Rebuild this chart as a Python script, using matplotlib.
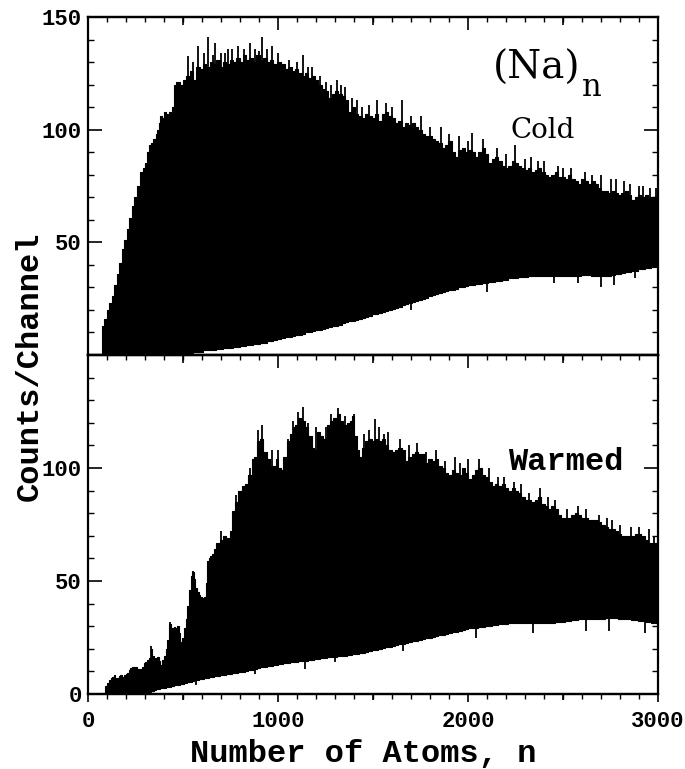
import numpy as np
import matplotlib
matplotlib.use('Agg')
import matplotlib.pyplot as plt
from matplotlib.ticker import MultipleLocator

# ---------------- data ----------------
cold_n = [75, 90, 105, 120, 132, 145, 158, 171, 184, 198, 211, 224, 237, 250, 263, 281, 294, 307, 316, 325,
          338, 351, 360, 368, 377, 386, 395, 404, 421, 434, 447, 456, 475, 492, 509, 526, 543, 561, 579, 597,
          614, 632, 650, 667, 684, 702, 720, 737, 754, 771, 789, 806, 823, 841, 858, 876, 893, 914, 932, 950,
          967, 985, 1002, 1028, 1045, 1063, 1080, 1098, 1116, 1133, 1151, 1168, 1186, 1203, 1221, 1239, 1256, 1274, 1291, 1309,
          1326, 1344, 1361, 1379, 1396, 1414, 1431, 1449, 1467, 1484, 1502, 1519, 1537, 1554, 1572, 1589, 1607, 1624, 1642, 1660,
          1677, 1695, 1712, 1730, 1747, 1765, 1782, 1800, 1817, 1835, 1852, 1870, 1887, 1905, 1922, 1940, 1958, 1975, 1993, 2010,
          2028, 2045, 2063, 2080, 2098, 2115, 2133, 2150, 2168, 2185, 2203, 2220, 2238, 2255, 2273, 2290, 2308, 2325, 2343, 2360,
          2378, 2395, 2413, 2430, 2448, 2465, 2483, 2500, 2518, 2535, 2553, 2570, 2588, 2605, 2623, 2640, 2658, 2675, 2693, 2710,
          2728, 2745, 2763, 2780, 2798, 2815, 2833, 2850, 2868, 2885, 2903, 2920, 2938, 2955, 2973, 2990, 3000]
cold_upper = [13, 16, 20, 23, 26, 31, 36, 41, 47, 51, 56, 61, 66, 70, 75, 81, 83, 85, 90, 93,
              94, 96, 98, 100, 103, 106, 105, 108, 107, 108, 110, 120, 121, 120, 122, 124, 126, 122, 128, 127,
              129, 128, 130, 129, 131, 128, 130, 129, 131, 130, 132, 130, 133, 131, 132, 130, 133, 131, 132, 130,
              131, 129, 130, 129, 127, 128, 126, 127, 125, 124, 125, 123, 124, 122, 120, 118, 117, 114, 116, 117,
              116, 115, 113, 108, 110, 107, 106, 105, 107, 106, 105, 107, 104, 107, 108, 106, 105, 103, 104, 101,
              103, 102, 103, 101, 100, 98, 97, 97, 96, 95, 94, 92, 93, 95, 90, 88, 91, 92, 90, 91,
              90, 88, 90, 92, 89, 85, 87, 88, 86, 84, 83, 84, 86, 85, 84, 83, 82, 83, 81, 82,
              83, 81, 80, 79, 80, 81, 79, 79, 78, 80, 78, 77, 76, 78, 77, 76, 77, 76, 74, 73,
              73, 72, 73, 72, 71, 72, 73, 71, 69, 70, 71, 70, 71, 70, 70, 70, 70]
cold_lower = [0, 0, 0, 0, 0, 0, 0, 0, 0, 0, 0, 0, 0, 0, 0, 0, 0, 0, 0, 0,
              0, 0, 0, 0, 0, 0, 0, 0, 0, 0, 0, 0.5, 0.5, 1, 1, 1, 1, 1.5, 1.5, 1.5,
              2, 2, 2, 2, 2.5, 2.5, 3, 3, 3, 3.5, 3.5, 4, 4, 4.5, 4.5, 5, 5, 5.5, 5.5, 6,
              6, 6.5, 7, 7.5, 8, 8, 8.5, 9, 9, 9.5, 10, 10, 10.5, 11, 11, 11.5, 12, 12.5, 13, 13,
              13.5, 14, 14.5, 15, 15, 15.5, 16, 16.5, 17, 17.5, 18, 18, 18.5, 19, 19.5, 20, 20.5, 21, 21.5, 22,
              22.5, 23, 23.5, 24, 24.5, 25, 25.5, 26, 26.5, 27, 27.5, 28, 28.5, 29, 29, 29.5, 30, 30, 30.5, 31,
              31, 31.5, 31.5, 32, 32, 32.5, 32.5, 33, 33, 33.5, 33.5, 34, 34, 34, 34.5, 34.5, 34.5, 35, 35, 35,
              35, 35, 35, 35, 35, 35, 35, 35, 35, 35, 35, 35, 35, 35.5, 35.5, 35.5, 35, 35, 35, 35,
              35, 35, 35.5, 36, 36, 36.5, 37, 37, 37.5, 37.5, 38, 38, 38.5, 38.5, 39, 39, 39]
cold_spike_n = [526, 550, 579, 610, 632, 660, 667, 700, 720, 737, 760, 789, 820, 853, 880, 900, 914, 940, 967,
                1000, 1060, 1100, 1133, 1160, 1180, 1220, 1250, 1280, 1309, 1330, 1350, 1390, 1414, 1440, 1480,
                1519, 1570, 1600, 1651, 1700, 1750, 1800, 1860, 1900, 1950, 2000, 2019, 2080, 2150, 2200, 2247,
                2300, 2330, 2370, 2400, 2475, 2500, 2540, 2616, 2650, 2700, 2750, 2780, 2820, 2850, 2900, 2920,
                2960, 2990]
cold_spike_v = [132.6, 130, 137, 134, 141, 133, 138.5, 134, 134, 135.6, 136, 137, 136, 138.5, 136, 135, 141, 136, 137,
                134, 131, 130, 133.3, 128, 128, 124, 121, 120, 122, 120, 119, 114, 113, 110, 111,
                113, 112, 110, 113, 106, 106, 101, 101, 98, 97, 95, 98.5, 96, 92, 89, 93.3,
                87, 88, 86, 86, 84, 83, 83, 81, 80, 80, 78, 78, 77, 76, 75, 75,
                74, 74]
cold_notch_n = [1700, 2100, 2450, 2580, 2700, 2770, 2880]
cold_notch_v = [20, 28, 32, 32, 30, 31, 34]

warm_n = [88, 96, 105, 114, 123, 132, 140, 149, 158, 167, 175, 184, 193, 202, 211, 219, 228, 237, 246, 254,
          263, 272, 281, 290, 298, 307, 316, 325, 333, 342, 351, 360, 368, 377, 386, 395, 404, 412, 421, 430,
          439, 447, 456, 465, 474, 482, 491, 500, 509, 518, 526, 535, 544, 553, 561, 570, 579, 588, 596, 605,
          614, 623, 632, 640, 649, 658, 667, 684, 702, 719, 737, 754, 765, 782, 800, 817, 835, 852, 870, 879,
          895, 914, 932, 950, 967, 985, 993, 1010, 1019, 1037, 1054, 1072, 1081, 1098, 1116, 1133, 1151, 1168, 1186, 1195,
          1212, 1230, 1247, 1265, 1282, 1300, 1317, 1335, 1353, 1370, 1388, 1396, 1405, 1423, 1432, 1449, 1467, 1484, 1502, 1519,
          1537, 1554, 1572, 1589, 1607, 1624, 1642, 1660, 1677, 1695, 1712, 1730, 1747, 1765, 1782, 1800, 1817, 1835, 1852, 1870,
          1887, 1905, 1922, 1940, 1958, 1975, 1993, 2010, 2028, 2045, 2063, 2080, 2098, 2115, 2133, 2150, 2168, 2185, 2203, 2220,
          2238, 2255, 2273, 2290, 2308, 2325, 2343, 2360, 2378, 2395, 2413, 2430, 2448, 2465, 2483, 2500, 2518, 2535, 2553, 2570,
          2588, 2605, 2623, 2640, 2658, 2675, 2693, 2710, 2728, 2745, 2763, 2780, 2798, 2815, 2833, 2850, 2868, 2885, 2903, 2920,
          2938, 2955, 2973, 2990, 3000]
warm_upper = [2, 3.5, 5, 6, 7, 7.5, 8.5, 7, 7, 8, 8.5, 7.5, 8.5, 9, 9.5, 10.5, 11.5, 12, 12, 12,
              11, 11, 10.5, 12, 13.5, 14, 15, 16, 20, 17, 16, 15.5, 16.5, 14.5, 13, 15, 17, 20, 24, 31,
              28, 29, 29.5, 29, 30, 27, 23, 25, 29, 33, 39, 46, 52, 54, 51, 47, 45, 44, 43, 42.5,
              43, 49, 59, 60, 61, 62, 64, 67, 68, 70, 69, 72, 81, 85, 90, 92, 93, 97, 104, 105,
              112, 113, 107, 104, 101, 101, 104, 100, 99, 105, 112, 115, 118, 119, 122, 121, 118, 114, 109, 108,
              116, 114, 113, 119, 121, 122, 124, 121, 119, 120, 121, 123, 114, 108, 105, 109, 112, 113, 112, 113,
              112, 113, 110, 108, 107, 108, 109, 108, 103, 105, 106, 107, 106, 106, 102, 104, 103, 104, 101, 100,
              98, 97, 99, 98, 97, 100, 98, 95, 97, 99, 100, 97, 96, 94, 92, 93, 92, 93, 91, 90,
              91, 90, 89, 87, 86, 86, 85, 86, 87, 84, 83, 82, 83, 82, 79, 78, 78, 78, 79, 80,
              79, 78, 78, 77, 77, 77, 76, 75, 74, 73, 73, 72, 71, 70, 70, 70, 70, 71, 71, 70,
              68, 67, 67, 67, 67]
warm_lower = [0, 0, 0, 0, 0, 0, 0, 0, 0, 0, 0, 0, 0, 0, 0, 0, 0, 0, 0, 0,
              0, 0, 0, 0.3, 0.5, 0.8, 1, 1, 1.2, 1.5, 1.8, 2, 2, 2.2, 2.5, 2.5, 2.8, 3, 3, 3.2,
              3.5, 3.5, 3.8, 4, 4, 4.2, 4.5, 4.5, 4.8, 5, 5.2, 5.5, 5.5, 5.8, 6, 6, 6.2, 6.5, 6.5, 6.8,
              7, 7, 7.2, 7.5, 7.5, 7.6, 7.8, 8, 8.4, 8.6, 8.8, 9, 9.2, 9.4, 9.6, 9.8, 10, 10.4, 10.8, 11,
              11.5, 11.8, 12, 12.3, 12.6, 12.9, 13, 13.2, 13.4, 13.6, 13.8, 14, 14, 14.2, 14.4, 14.6, 14.8, 15, 15.2, 15.4,
              15.6, 15.8, 16, 16.2, 16.4, 16.5, 16.6, 16.8, 17, 17.2, 17.4, 17.5, 17.6, 17.8, 18, 18.3, 18.6, 19, 19.3, 19.6,
              20, 20.3, 20.6, 21, 21.3, 21.6, 22, 22.3, 22.6, 23, 23.3, 23.6, 24, 24.3, 24.6, 25, 25.3, 25.6, 26, 26.3,
              26.6, 27, 27.3, 27.6, 28, 28.3, 28.6, 29, 29.2, 29.4, 29.6, 29.8, 30, 30.2, 30.4, 30.6, 30.8, 31, 31, 31.2,
              31.2, 31.4, 31.4, 31.4, 31.4, 31.4, 31.4, 31.4, 31.4, 31.4, 31.4, 31.4, 31.6, 31.8, 32, 32, 32.2, 32.4, 32.6, 32.8,
              33, 33, 33, 33, 33, 33, 33.2, 33.4, 33.6, 33.7, 33.7, 33.5, 33.4, 33.2, 33, 33, 32.8, 32.6, 32.4, 32.2,
              32, 31.8, 31.6, 31.6, 31.6]
warm_spike_n = [333, 430, 553, 700, 780, 850, 895, 914, 970, 1000, 1050, 1080, 1107, 1133, 1160, 1200, 1250,
                1280, 1317, 1350, 1400, 1450, 1480, 1511, 1530, 1560, 1580, 1640, 1690, 1730, 1780, 1830, 1880,
                1932, 1960, 2000, 2060, 2110, 2160, 2190, 2240, 2280, 2320, 2380, 2420, 2460, 2520, 2580, 2620,
                2690, 2730, 2760, 2800, 2860, 2900, 2950, 2980]
warm_spike_v = [21.3, 32, 54.3, 72, 88, 100, 117, 119, 108, 108, 113, 121, 124.7, 126.9, 120, 118, 118,
                124, 126.5, 123, 124, 115, 117, 121.8, 118, 115, 116, 113, 110, 111, 107, 108, 103,
                104.7, 102, 104, 104, 100, 96, 96, 94, 93, 89, 91, 87, 86, 82, 83, 82,
                79, 78, 77, 75, 74, 74, 73, 70]
warm_notch_n = [570, 880, 1140, 1300, 1660, 2040, 2340, 2620, 2740, 2930]
warm_notch_v = [4, 9, 11, 14, 19, 25, 27, 28, 28, 27]

x_major = [0, 1000, 2000, 3000]
x_mid = [500, 1500, 2500]
cold_yticklabels = ['', '50', '100', '150']
warm_yticklabels = ['0', '50', '100', '']

# ---------------- figure ----------------
W, H = 685, 769
fig = plt.figure(figsize=(W / 100, H / 100), dpi=100)
fig.patch.set_facecolor('white')

def fx(px):
    return px / W

def fy(py):
    return 1 - py / H

L, R = 88, 658
ax1 = fig.add_axes([fx(L), fy(355), fx(R) - fx(L), fy(17) - fy(355)])
ax2 = fig.add_axes([fx(L), fy(694), fx(R) - fx(L), fy(355) - fy(694)])

mono = dict(family='Liberation Mono', weight='bold')

def draw(ax, n, up, lo, sn, sv, nn, nv):
    n = np.asarray(n, float)
    up = np.asarray(up, float)
    lo = np.asarray(lo, float)
    ax.fill_between(n, lo, up, step='mid', color='black', linewidth=0.8, edgecolor='black')
    sv = np.asarray(sv, float)
    ax.vlines(sn, sv * 0.75, sv, color='black', linewidth=1.3)
    nv = np.asarray(nv, float)
    ax.vlines(nn, nv, nv + 6, color='black', linewidth=1.3)

draw(ax1, cold_n, cold_upper, cold_lower, cold_spike_n, cold_spike_v, cold_notch_n, cold_notch_v)
draw(ax2, warm_n, warm_upper, warm_lower, warm_spike_n, warm_spike_v, warm_notch_n, warm_notch_v)

for ax, labels in ((ax1, cold_yticklabels), (ax2, warm_yticklabels)):
    ax.set_xlim(0, 3000)
    ax.set_ylim(0, 150)
    for s in ax.spines.values():
        s.set_linewidth(1.6)
    ax.set_yticks([0, 50, 100, 150])
    ax.set_yticklabels(labels)
    ax.yaxis.set_minor_locator(MultipleLocator(10))
    ax.tick_params(axis='y', which='major', direction='in', left=True, right=True,
                   length=10, width=1.2, pad=4.5, labelsize=16)
    ax.tick_params(axis='y', which='minor', direction='in', left=True, right=True,
                   length=4.5, width=1.0)
    ax.set_xticks(x_major)
    ax.xaxis.set_minor_locator(MultipleLocator(100))
    for lab in ax.get_yticklabels():
        lab.set_fontfamily('Liberation Mono')
        lab.set_fontweight('bold')

# top panel: x ticks only on top (inward), none at the bottom
ax1.tick_params(axis='x', which='major', direction='in', top=True, bottom=False,
                labelbottom=False, length=9, width=1.2)
ax1.tick_params(axis='x', which='minor', direction='in', top=True, bottom=False,
                length=3.6, width=1.0)
s1 = ax1.secondary_xaxis('top')
s1.set_xticks(x_mid)
s1.tick_params(axis='x', direction='in', length=6, width=1.2, labeltop=False)
s1.spines['top'].set_linewidth(1.6)

# bottom panel: outward ticks at the bottom, inward ticks at the top
ax2.tick_params(axis='x', which='major', direction='out', top=False, bottom=True,
                length=6, width=1.2, pad=6.5, labelsize=16)
ax2.tick_params(axis='x', which='minor', direction='out', top=False, bottom=True,
                length=3.6, width=1.0)
for lab in ax2.get_xticklabels():
    lab.set_fontfamily('Liberation Mono')
    lab.set_fontweight('bold')
s2 = ax2.secondary_xaxis('bottom')
s2.set_xticks(x_mid)
s2.tick_params(axis='x', direction='out', length=4.5, width=1.2, labelbottom=False)
s3 = ax2.secondary_xaxis('top')
s3.set_xticks(x_major)
s3.xaxis.set_minor_locator(MultipleLocator(100))
s3.tick_params(axis='x', which='major', direction='in', length=9, width=1.2, labeltop=False)
s3.tick_params(axis='x', which='minor', direction='in', length=3.6, width=1.0)
s4 = ax2.secondary_xaxis('top')
s4.set_xticks(x_mid)
s4.tick_params(axis='x', direction='in', length=6, width=1.2, labeltop=False)
for s in (s2, s3, s4):
    for sp in s.spines.values():
        sp.set_linewidth(1.6)

# ---------------- texts ----------------
fig.text(fx(30), fy(366), 'Counts/Channel', rotation=90, ha='center', va='center',
         fontsize=23, **mono)
fig.text(fx(363), fy(754), 'Number of Atoms, n', ha='center', va='center',
         fontsize=23, **mono)
fig.text(fx(493), fy(68), '(Na)', ha='left', va='center', fontsize=28,
         family='DejaVu Serif')
fig.text(fx(582), fy(88), 'n', ha='left', va='center', fontsize=22,
         family='DejaVu Serif')
fig.text(fx(543), fy(130), 'Cold', ha='center', va='center', fontsize=20,
         family='DejaVu Serif')
fig.text(fx(566), fy(462), 'Warmed', ha='center', va='center', fontsize=23, **mono)

fig.savefig('out.png', dpi=100, facecolor='white')
